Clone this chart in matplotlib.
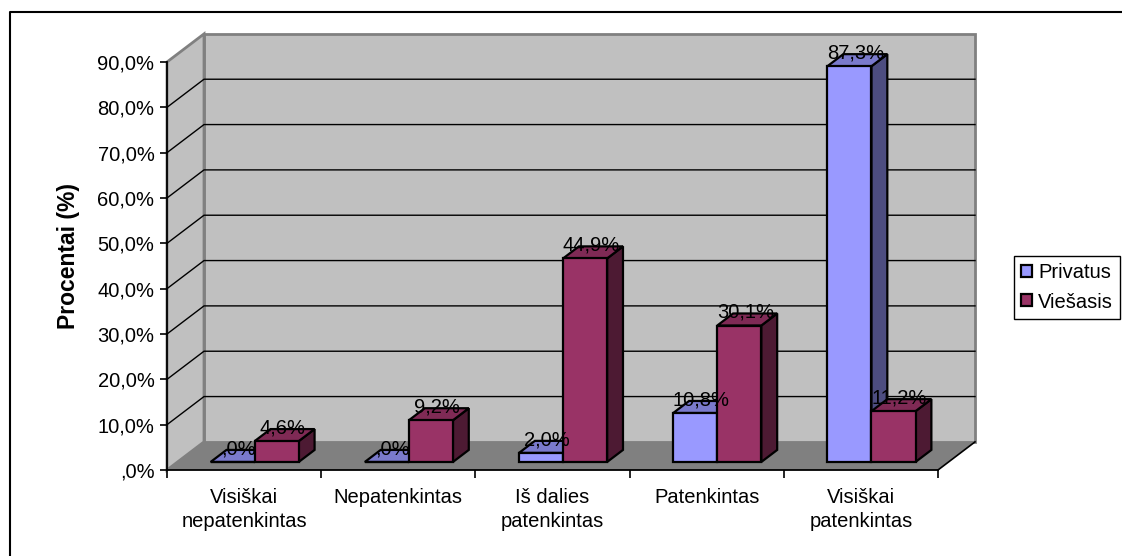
import matplotlib.pyplot as plt
from matplotlib.patches import Polygon, Patch
from matplotlib.lines import Line2D
import numpy as np

plt.rcParams['font.family'] = ['Liberation Sans', 'DejaVu Sans']

# survey answers and shares per sector (%)
categories = ['Visiškai\nnepatenkintas', 'Nepatenkintas', 'Iš dalies\npatenkintas',
              'Patenkintas', 'Visiškai\npatenkintas']
series_names = ['Privatus', 'Viešasis']
privatus = [0.0, 0.0, 2.0, 10.8, 87.3]
viesasis = [4.6, 9.2, 44.9, 30.1, 11.2]
y_ticks = [0, 10, 20, 30, 40, 50, 60, 70, 80, 90]

# front, top and side shades of each series
front_colors = ['#9999FF', '#993366']
top_colors = ['#7A7ACC', '#7F2A55']
side_colors = ['#4D4D80', '#4D1A33']

FS = 14.5
DX, DY = 0.24, 6.2       # oblique depth of the box, in data units
F0, F1 = 0.286, 0.714    # depth range occupied by the bars
BW = 1 / 3.5             # bar width (gap width 150%)


def pct(v):
    s = f'{v:.1f}'.replace('.', ',')
    if s.startswith('0,'):
        s = s[1:]
    return s + '%'


def proj(x, y, d):
    return (x + d * DX, y + d * DY)


fig = plt.figure(figsize=(11.22, 5.56), dpi=100)
ax = fig.add_axes([167 / 1122, 86 / 556, 771 / 1122, 408 / 556])
ax.set_xlim(0, len(categories))
ax.set_ylim(0, 90)
ax.patch.set_visible(False)

n = len(categories)
ymax = y_ticks[-1]

# walls and floor
back_wall = [proj(0, 0, 1), proj(n, 0, 1), proj(n, ymax, 1), proj(0, ymax, 1)]
side_wall = [proj(0, 0, 0), proj(0, 0, 1), proj(0, ymax, 1), proj(0, ymax, 0)]
floor = [proj(0, 0, 0), proj(n, 0, 0), proj(n, 0, 1), proj(0, 0, 1)]
for pts in (back_wall, side_wall):
    ax.add_patch(Polygon(pts, closed=True, facecolor='#C0C0C0', edgecolor='#808080',
                         lw=2, clip_on=False, zorder=0.5))
for yv in y_ticks[1:-1]:
    p0, p1, p2 = proj(0, yv, 0), proj(0, yv, 1), proj(n, yv, 1)
    ax.plot([p0[0], p1[0], p2[0]], [p0[1], p1[1], p2[1]], color='black', lw=1,
            clip_on=False, zorder=0.6)
ax.add_patch(Polygon(floor, closed=True, facecolor='#808080', edgecolor='none',
                     clip_on=False, zorder=0.7))
p0, p1 = proj(n, 0, 0), proj(n, 0, 1)
ax.plot([p0[0], p1[0]], [p0[1], p1[1]], color='black', lw=1.2, clip_on=False, zorder=0.8)

# bars: side, top, then front face, series after series
values = [privatus, viesasis]
z = 3
for i in range(n):
    for s, vals in enumerate(values):
        v = vals[i]
        x0 = i + 0.5 - BW + s * BW
        x1 = x0 + BW
        side = [proj(x1, 0, F0), proj(x1, 0, F1), proj(x1, v, F1), proj(x1, v, F0)]
        top = [proj(x0, v, F0), proj(x1, v, F0), proj(x1, v, F1), proj(x0, v, F1)]
        front = [proj(x0, 0, F0), proj(x1, 0, F0), proj(x1, v, F0), proj(x0, v, F0)]
        for pts, col in ((side, side_colors[s]), (top, top_colors[s]), (front, front_colors[s])):
            ax.add_patch(Polygon(pts, closed=True, facecolor=col, edgecolor='black',
                                 lw=1.6, joinstyle='miter', clip_on=False, zorder=z))
        z += 0.01

# data labels
for i in range(n):
    for s, vals in enumerate(values):
        v = vals[i]
        xc = i + 0.5 - BW + s * BW + BW / 2
        lx, _ = proj(xc, v, F0 + 0.16)
        _, ly = proj(xc, v, F1)
        ax.text(lx, ly + 0.3, pct(v), ha='center', va='center', fontsize=FS, zorder=10)

# axes
ax.spines['top'].set_visible(False)
ax.spines['right'].set_visible(False)
ax.spines['left'].set_linewidth(1.3)
ax.spines['bottom'].set_linewidth(1.3)
ax.spines['left'].set_zorder(2.5)

ax.set_yticks(y_ticks)
ax.set_yticklabels([pct(v) for v in y_ticks])
ax.tick_params(axis='y', direction='out', length=5, width=1.2, pad=4, labelsize=FS)

ax.set_xticks(np.arange(n + 1))
ax.set_xticklabels([])
ax.set_xticks(np.arange(n) + 0.5, minor=True)
ax.set_xticklabels(categories, minor=True)
ax.tick_params(axis='x', which='major', direction='out', length=6, width=1.2)
ax.tick_params(axis='x', which='minor', length=0, pad=13, labelsize=FS)
for t in ax.get_xticklabels(minor=True):
    t.set_linespacing(1.35)

ax.set_ylabel('Procentai (%)', fontsize=16.5, fontweight='bold')
ax.yaxis.set_label_coords(-0.113, 0.524)

handles = [Patch(facecolor=c, edgecolor='black', lw=1.6) for c in front_colors]
leg = fig.legend(handles, series_names, loc='center right',
                 bbox_to_anchor=(1120 / 1122, 1 - 287.5 / 556), fontsize=FS,
                 frameon=True, fancybox=False, edgecolor='black', framealpha=1,
                 handlelength=0.55, handleheight=0.55, handletextpad=0.3,
                 borderpad=0.35, labelspacing=0.5, borderaxespad=0)
leg.get_frame().set_linewidth(1.0)

# chart area border (left and top edges)
fig.add_artist(Line2D([10 / 1122, 10 / 1122, 1.0], [0.0, 1 - 12 / 556, 1 - 12 / 556],
                      transform=fig.transFigure, color='black', lw=1.5))

fig.savefig('out.png', dpi=100)
